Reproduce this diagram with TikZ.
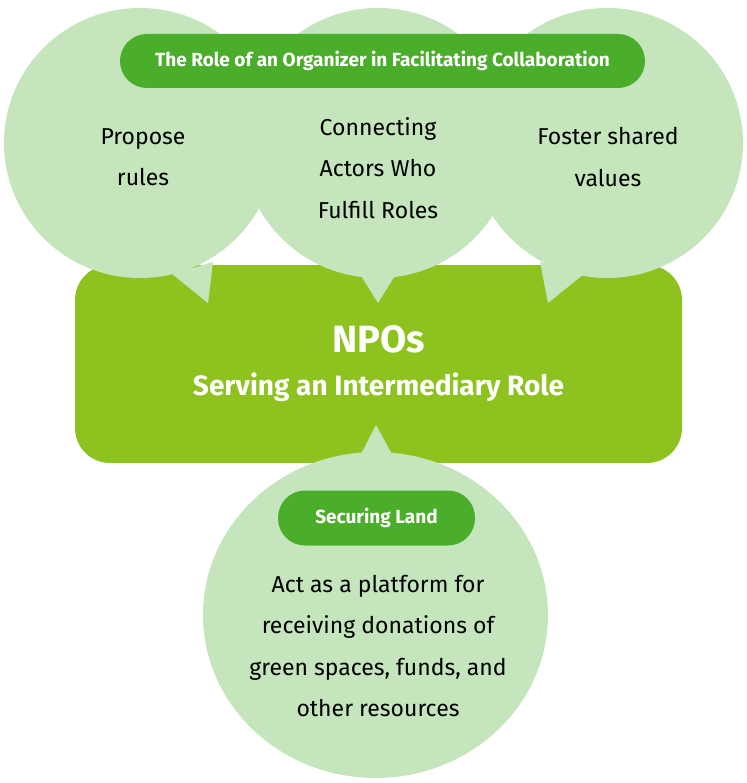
\documentclass[tikz,border=0pt]{standalone}
\usepackage{fontspec}
\setmainfont{Fira Sans}
\usetikzlibrary{shapes.geometric, positioning}
\definecolor{bubblegreen}{HTML}{C5E6BC}
\definecolor{npogreen}{HTML}{8DC21F}
\definecolor{bargreen}{HTML}{4BAE2A}
\tikzset{
    x=1pt, y=-1pt, % one unit per pixel of the layout, y going down
    bubble/.style={ellipse, fill=bubblegreen, inner sep=0pt}, % the light speech bubbles
    tail/.style={fill=bubblegreen}, % the pointer of each bubble
    bubble text/.style={align=center, font=\fontsize{23}{41.5}\selectfont},
    pill/.style={rectangle, fill=bargreen, text=white, font=\bfseries\fontsize{19}{22}\selectfont},
    npo box/.style={rectangle, rounded corners=35pt, fill=npogreen, text=white, align=center,
      font=\bfseries\fontsize{28}{43}\selectfont},
    }

\begin{document}
\begin{tikzpicture}
\useasboundingbox (0,0) rectangle (746,783);
\node[npo box, minimum width=607pt, minimum height=198pt] (npo) at (378.5,364)
  {{\fontsize{38}{43}\selectfont NPOs}\\Serving an Intermediary Role};

\node[bubble, minimum width=272pt, minimum height=270pt] (left) at (140,143) {};
\node[bubble, minimum width=272pt, minimum height=270pt] (mid) at (378,143) {};
\node[bubble, minimum width=272pt, minimum height=270pt] (right) at (607,143) {};
\node[bubble, minimum width=345pt, minimum height=326pt] (land) at (375.5,615) {};

\fill[tail] (172,274) -- (208,303) -- (213,262) -- cycle;
\fill[tail] (360,274) -- (378,303) -- (396,274) -- cycle;
\fill[tail] (540,262) -- (548,303) -- (584,274) -- cycle;
\fill[tail] (360,456) -- (376,425) -- (393,456) -- cycle;

\node[pill, minimum width=525pt, minimum height=54pt, rounded corners=27pt] (role) at (382.5,61)
  {The Role of an Organizer in Facilitating Collaboration};
\node[pill, minimum width=197pt, minimum height=55pt, rounded corners=27pt] (secure) at (376.5,518)
  {Securing Land};

\node[bubble text] (rules) at (143,157) {Propose\\rules};
\node[bubble text] (actors) at (378,168) {Connecting\\Actors Who\\Fulfill Roles};
\node[bubble text] (values) at (608,157) {Foster shared\\values};
\node[bubble text] (donate) at (378,646) {Act as a platform for\\receiving donations of\\green spaces, funds, and\\other resources};
\end{tikzpicture}
\end{document}
